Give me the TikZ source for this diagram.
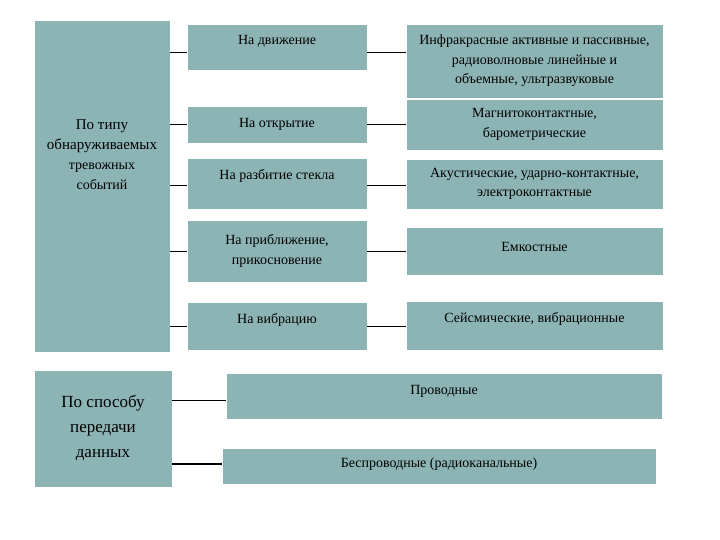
\documentclass[tikz,border=0pt]{standalone}
\usepackage{fontspec}
\setmainfont{Liberation Serif}
\usepackage{tikz}

\definecolor{boxfill}{RGB}{141,180,180}

\tikzset{
  cell/.style={fill=boxfill, draw=white, line width=0.6pt, align=center,
    inner sep=1pt, font=\fontsize{14}{19.5}\selectfont},
  lift/.style={text height=8pt, text depth=#1},
  link/.style={draw=black, line width=0.8pt}
}

\begin{document}
\begin{tikzpicture}[x=1pt,y=-1pt]
  \useasboundingbox (0,0) rectangle (720,540);
  \fill[white] (0,0) rectangle (720,540);

  % left column
  \node[cell, minimum width=136pt, minimum height=332pt] (typ) at (102,186) {};
  \node[align=center, font=\fontsize{15}{20}\selectfont] (typtxt) at (102,155)
    {По типу\\ обнаруживаемых\\
     {\fontsize{14}{20}\selectfont тревожных}\\ {\fontsize{14}{20}\selectfont событий}};
  \node[cell, minimum width=138pt, minimum height=117pt,
    font=\fontsize{17}{25}\selectfont] (sb) at (103,428.5)
    {По способу\\ передачи\\ данных};

  % middle column
  \begin{scope}[every node/.style={cell, minimum width=180pt}]
    \node[minimum height=46pt, lift=13pt] (dv) at (277,47) {На движение};
    \node[minimum height=37pt] (otk) at (277,124.5) {На открытие};
    \node[minimum height=51pt, lift=16pt] (raz) at (277,183.5) {На разбитие стекла};
    \node[minimum height=62pt] (pri) at (277,251) {На приближение,\\ прикосновение};
    \node[minimum height=48pt, lift=13pt] (vib) at (277,326) {На вибрацию};
  \end{scope}

  % right column
  \begin{scope}[every node/.style={cell, minimum width=257pt}]
    \node[minimum height=74pt] (ir) at (534.5,61)
      {Инфракрасные активные и пассивные,\\ радиоволновые линейные и\\ объемные, ультразвуковые};
    \node[minimum height=51pt] (mag) at (534.5,124.5)
      {Магнитоконтактные,\\ барометрические};
    \node[minimum height=50pt] (aku) at (534.5,184)
      {Акустические, ударно-контактные,\\ электроконтактные};
    \node[minimum height=48pt, lift=7pt] (emk) at (534.5,251) {Емкостные};
    \node[minimum height=49pt, lift=14pt] (seis) at (534.5,325.5)
      {Сейсмические, вибрационные};
  \end{scope}

  % transmission
  \node[cell, minimum width=436pt, minimum height=46pt, lift=11pt] (pr) at (444,396)
    {Проводные};
  \node[cell, minimum width=434pt, minimum height=36pt, lift=5pt] (bs) at (439,466)
    {Беспроводные (радиоканальные)};

  % connectors
  \draw[link] ([yshift=-5pt]dv.west -| typ.east) -- ([yshift=-5pt]dv.west);
  \draw[link] (otk.west -| typ.east) -- (otk.west);
  \draw[link] ([yshift=-2pt]raz.west -| typ.east) -- ([yshift=-2pt]raz.west);
  \draw[link] (pri.west -| typ.east) -- (pri.west);
  \draw[link] (vib.west -| typ.east) -- (vib.west);

  \draw[link] ([yshift=-5pt]dv.east) -- ([yshift=-5pt]dv.east -| ir.west);
  \draw[link] (otk.east) -- (otk.east -| mag.west);
  \draw[link] ([yshift=-2pt]raz.east) -- ([yshift=-2pt]raz.east -| aku.west);
  \draw[link] (pri.east) -- (pri.east -| emk.west);
  \draw[link] (vib.east) -- (vib.east -| seis.west);

  \draw[link] ([yshift=-4pt]pr.west -| sb.east) -- ([yshift=-4pt]pr.west);
  \draw[link, line width=1.6pt] ([yshift=2pt]bs.west -| sb.east) -- ([yshift=2pt]bs.west);
\end{tikzpicture}
\end{document}
